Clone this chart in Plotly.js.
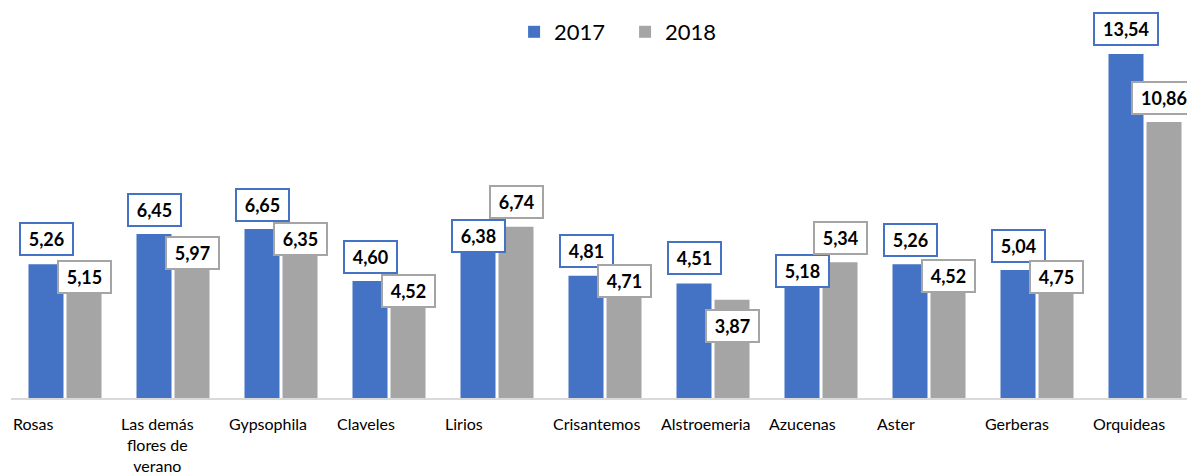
<!DOCTYPE html>
<html>
<head>
<meta charset="utf-8">
<script src="https://cdn.plot.ly/plotly-3.0.1.min.js"></script>
<style>html,body{margin:0;padding:0;background:#fff;overflow:hidden;width:1187px;height:475px;}#chart{width:1215px;height:475px;}</style>
</head>
<body>
<div id="chart"></div>
<script>
// ---- data ----
var categories = ['Rosas', 'Las demás flores de verano', 'Gypsophila', 'Claveles', 'Lirios',
  'Crisantemos', 'Alstroemeria', 'Azucenas', 'Aster', 'Gerberas', 'Orquideas'];
var tickLabels = ['Rosas', 'Las demás<br>flores de<br>verano', 'Gypsophila', 'Claveles', 'Lirios',
  'Crisantemos', 'Alstroemeria', 'Azucenas', 'Aster', 'Gerberas', 'Orquideas'];
var seriesNames = ['2017', '2018'];
var values2017 = [5.26, 6.45, 6.65, 4.60, 6.38, 4.81, 4.51, 5.18, 5.26, 5.04, 13.54];
var values2018 = [5.15, 5.97, 6.35, 4.52, 6.74, 4.71, 3.87, 5.34, 4.52, 4.75, 10.86];

// ---- label placement offsets (px, positive = above bar top) ----
var lift2017 = [25, 24, 24, 24.5, 0, 24.5, 25, -4.5, 24, 24, 25];
var lift2018 = [-9.5, -7, -2, -7.5, 24.5, -2.5, -26, 24.5, 7, 0, 24.5];

var colors = ['#4472C4', '#A5A5A5'];
var FONT = 'Lato, "Open Sans", sans-serif';

function fmt(v) { return v.toFixed(2).replace('.', ','); }

var traces = [
  {type: 'bar', name: seriesNames[0], x: categories, y: values2017,
   marker: {color: colors[0]}, hoverinfo: 'none'},
  {type: 'bar', name: seriesNames[1], x: categories, y: values2018,
   marker: {color: colors[1]}, hoverinfo: 'none'}
];

var annotations = [];
function addLabels(vals, lifts, color, shift) {
  vals.forEach(function (v, i) {
    var t = fmt(v);
    annotations.push({
      x: i, y: v, xref: 'x', yref: 'y', xshift: shift, yshift: lifts[i],
      text: '<b>' + t + '</b>', showarrow: false,
      xanchor: 'center', yanchor: 'middle',
      font: {family: FONT, size: 18, color: '#000'},
      bgcolor: '#ffffff', bordercolor: color, borderwidth: 2, borderpad: 0,
      width: t.length > 4 ? 62 : 51, height: 30
    });
  });
}
addLabels(values2017, lift2017, colors[0], -19);
addLabels(values2018, lift2018, colors[1], 19);

tickLabels.forEach(function (lab, i) {
  annotations.push({
    x: i - 0.5, y: 0, xref: 'x', yref: 'paper', xshift: 0, yshift: -14,
    text: lab, showarrow: false, xanchor: 'left', yanchor: 'top', align: 'center',
    font: {family: FONT, size: 16, color: '#000'}
  });
});

var layout = {
  width: 1215, height: 475,
  margin: {l: 11, r: 16, t: 30, b: 77, pad: 0},
  paper_bgcolor: '#fff', plot_bgcolor: '#fff',
  barmode: 'group', bargap: 0.296, bargroupgap: 0.079,
  showlegend: true,
  legend: {orientation: 'h', x: 0.5169, xanchor: 'center', y: 1.0, yanchor: 'middle',
    entrywidth: 66, entrywidthmode: 'pixels',
    font: {family: FONT, size: 22, color: '#000'}, itemclick: false},
  xaxis: {type: 'category', range: [-0.5, 10.5], showticklabels: false, ticks: '',
    showgrid: false, zeroline: false, showline: true, linecolor: '#D9D9D9', linewidth: 1.5,
    fixedrange: true},
  yaxis: {range: [0, 14.403], visible: false, showgrid: false, zeroline: false, fixedrange: true},
  annotations: annotations
};

Plotly.newPlot('chart', traces, layout, {displayModeBar: false, staticPlot: true});
</script>
</body>
</html>
